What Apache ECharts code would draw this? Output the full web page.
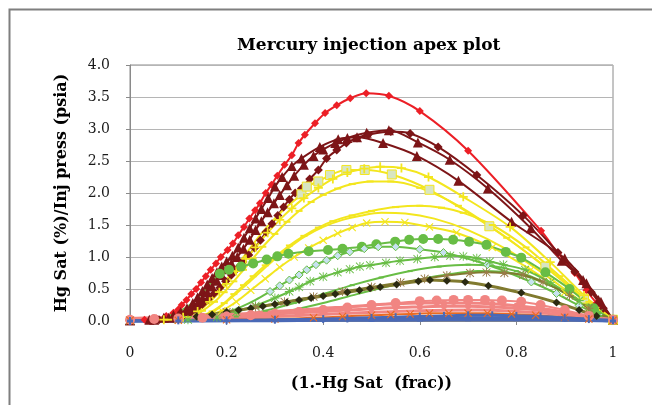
<!DOCTYPE html>
<html>
<head>
<meta charset="utf-8">
<script src="https://cdn.jsdelivr.net/npm/echarts@6/dist/echarts.min.js"></script>
<style>
  html, body { margin: 0; padding: 0; background: #fff; }
  #chart { width: 652px; height: 405px; }
</style>
</head>
<body>
<div id="chart"></div>
<script>
// axis ticks
var xTicks = [0, 0.2, 0.4, 0.6, 0.8, 1];
var yTicks = [0, 0.5, 1.0, 1.5, 2.0, 2.5, 3.0, 3.5, 4.0];

// series values: [1.-Hg Sat, Hg Sat/Inj press]
var redDiamond = [[0,0.01],[0.03,0.02],[0.055,0.04],[0.075,0.08],[0.09,0.13],[0.1,0.18],[0.107,0.25],[0.117,0.33],[0.127,0.42],[0.137,0.5],[0.147,0.6],[0.157,0.7],[0.167,0.8],[0.178,0.9],[0.188,1.0],[0.202,1.11],[0.213,1.21],[0.224,1.34],[0.236,1.47],[0.247,1.6],[0.259,1.73],[0.269,1.84],[0.281,2.0],[0.293,2.13],[0.305,2.27],[0.32,2.44],[0.335,2.59],[0.349,2.78],[0.362,2.91],[0.383,3.09],[0.404,3.25],[0.428,3.37],[0.456,3.48],[0.489,3.56],[0.536,3.52],[0.6,3.28],[0.7,2.66],[0.851,1.41],[0.886,1.06],[0.921,0.75],[0.945,0.48],[0.966,0.28],[1,0.02]];
var darkTriA = [[0,0.01],[0.04,0.02],[0.07,0.05],[0.09,0.09],[0.105,0.14],[0.118,0.2],[0.13,0.28],[0.14,0.37],[0.15,0.47],[0.16,0.57],[0.17,0.67],[0.18,0.76],[0.19,0.85],[0.2,0.93],[0.212,1.02],[0.224,1.15],[0.236,1.3],[0.248,1.45],[0.26,1.6],[0.272,1.75],[0.286,1.92],[0.3,2.1],[0.315,2.25],[0.335,2.42],[0.355,2.54],[0.393,2.72],[0.431,2.84],[0.47,2.87],[0.524,2.78],[0.594,2.58],[0.68,2.19],[0.79,1.55],[0.9,0.98],[0.945,0.59],[0.975,0.3],[1,0.02]];
var darkTriB = [[0,0.01],[0.05,0.02],[0.08,0.05],[0.1,0.09],[0.115,0.14],[0.128,0.2],[0.14,0.28],[0.15,0.36],[0.16,0.45],[0.17,0.54],[0.18,0.63],[0.19,0.72],[0.2,0.81],[0.21,0.9],[0.222,1.0],[0.235,1.13],[0.248,1.27],[0.26,1.42],[0.272,1.56],[0.285,1.7],[0.298,1.84],[0.31,1.97],[0.325,2.12],[0.34,2.27],[0.36,2.44],[0.38,2.58],[0.4,2.68],[0.425,2.78],[0.45,2.86],[0.49,2.94],[0.536,2.98],[0.596,2.79],[0.662,2.52],[0.741,2.07],[0.83,1.45],[0.894,0.94],[0.938,0.64],[0.97,0.33],[1,0.02]];
var darkDiamond = [[0,0.01],[0.06,0.02],[0.09,0.04],[0.11,0.08],[0.125,0.13],[0.138,0.19],[0.15,0.26],[0.162,0.34],[0.174,0.43],[0.186,0.52],[0.198,0.62],[0.21,0.72],[0.222,0.82],[0.234,0.92],[0.246,1.03],[0.258,1.14],[0.27,1.26],[0.282,1.39],[0.294,1.52],[0.306,1.65],[0.318,1.78],[0.33,1.9],[0.342,2.0],[0.355,2.07],[0.372,2.22],[0.39,2.36],[0.407,2.54],[0.428,2.67],[0.448,2.78],[0.47,2.86],[0.493,2.91],[0.54,2.96],[0.58,2.93],[0.638,2.72],[0.718,2.28],[0.814,1.65],[0.886,1.07],[0.921,0.77],[0.955,0.45],[0.98,0.2],[1,0.02]];
var yellowSquare = [[0,0.01],[0.06,0.02],[0.1,0.05],[0.13,0.12],[0.155,0.25],[0.175,0.4],[0.19,0.55],[0.21,0.75],[0.23,0.95],[0.25,1.15],[0.27,1.35],[0.29,1.52],[0.31,1.68],[0.33,1.82],[0.355,1.98],[0.366,2.1],[0.39,2.18],[0.414,2.28],[0.448,2.36],[0.486,2.36],[0.542,2.29],[0.62,2.05],[0.744,1.48],[0.86,0.85],[0.94,0.35],[1,0.02]];
var yellowPlus = [[0,0.01],[0.07,0.02],[0.11,0.06],[0.14,0.15],[0.165,0.3],[0.185,0.45],[0.2,0.58],[0.22,0.78],[0.24,0.97],[0.26,1.15],[0.285,1.38],[0.31,1.58],[0.335,1.76],[0.36,1.92],[0.39,2.08],[0.42,2.22],[0.45,2.32],[0.485,2.38],[0.518,2.41],[0.562,2.39],[0.618,2.25],[0.69,1.94],[0.787,1.47],[0.87,0.92],[0.94,0.4],[1,0.02]];
var yellowDashA = [[0,0.01],[0.08,0.02],[0.12,0.06],[0.15,0.16],[0.175,0.3],[0.195,0.45],[0.215,0.62],[0.235,0.8],[0.255,0.98],[0.275,1.16],[0.3,1.36],[0.325,1.55],[0.35,1.72],[0.375,1.86],[0.4,1.97],[0.43,2.07],[0.46,2.14],[0.497,2.18],[0.54,2.18],[0.6,2.08],[0.68,1.8],[0.78,1.3],[0.87,0.78],[0.94,0.35],[1,0.02]];
var yellowDashB = [[0,0.01],[0.1,0.02],[0.14,0.06],[0.17,0.15],[0.195,0.28],[0.215,0.42],[0.235,0.56],[0.255,0.7],[0.28,0.87],[0.305,1.03],[0.33,1.18],[0.36,1.33],[0.39,1.46],[0.42,1.56],[0.46,1.65],[0.5,1.72],[0.55,1.78],[0.6,1.8],[0.645,1.77],[0.69,1.69],[0.75,1.5],[0.82,1.15],[0.89,0.7],[0.95,0.3],[1,0.02]];
var yellowPlain = [[0,0.01],[0.1,0.02],[0.15,0.07],[0.18,0.18],[0.2,0.3],[0.225,0.46],[0.25,0.63],[0.275,0.8],[0.3,0.97],[0.33,1.15],[0.36,1.31],[0.4,1.47],[0.44,1.58],[0.48,1.65],[0.52,1.69],[0.57,1.68],[0.63,1.6],[0.7,1.42],[0.78,1.12],[0.86,0.72],[0.93,0.33],[1,0.02]];
var yellowCross = [[0,0.01],[0.1,0.02],[0.15,0.06],[0.19,0.16],[0.22,0.3],[0.25,0.48],[0.28,0.66],[0.31,0.84],[0.34,1.0],[0.37,1.14],[0.4,1.26],[0.43,1.37],[0.46,1.46],[0.49,1.53],[0.528,1.55],[0.569,1.54],[0.62,1.47],[0.676,1.38],[0.75,1.15],[0.83,0.8],[0.9,0.45],[0.95,0.2],[1,0.02]];
var greenCircle = [[0,0.01],[0.04,0.03],[0.08,0.08],[0.11,0.18],[0.135,0.32],[0.155,0.48],[0.17,0.62],[0.186,0.74],[0.205,0.8],[0.23,0.85],[0.255,0.9],[0.283,0.96],[0.305,1.01],[0.328,1.05],[0.37,1.09],[0.41,1.11],[0.44,1.13],[0.48,1.16],[0.51,1.2],[0.549,1.24],[0.578,1.27],[0.607,1.28],[0.638,1.28],[0.669,1.27],[0.702,1.24],[0.738,1.19],[0.778,1.08],[0.81,0.99],[0.86,0.76],[0.91,0.5],[0.96,0.2],[1,0.02]];
var greenDiamond = [[0,0.01],[0.1,0.02],[0.16,0.06],[0.2,0.13],[0.23,0.22],[0.26,0.33],[0.29,0.46],[0.31,0.55],[0.33,0.64],[0.35,0.72],[0.366,0.8],[0.385,0.88],[0.407,0.95],[0.43,1.02],[0.455,1.08],[0.485,1.13],[0.514,1.16],[0.55,1.16],[0.6,1.12],[0.649,1.07],[0.74,0.88],[0.831,0.61],[0.883,0.43],[0.93,0.24],[0.97,0.1],[1,0.02]];
var greenStar = [[0,0.01],[0.12,0.02],[0.18,0.06],[0.22,0.14],[0.26,0.24],[0.3,0.36],[0.33,0.46],[0.35,0.53],[0.373,0.62],[0.4,0.69],[0.43,0.76],[0.455,0.81],[0.476,0.85],[0.497,0.87],[0.53,0.91],[0.559,0.94],[0.595,0.97],[0.631,1.0],[0.663,1.02],[0.69,1.01],[0.718,0.98],[0.745,0.93],[0.773,0.88],[0.818,0.8],[0.87,0.6],[0.93,0.32],[0.97,0.12],[1,0.02]];
var greenPlainA = [[0,0.01],[0.15,0.02],[0.22,0.07],[0.28,0.16],[0.34,0.28],[0.4,0.42],[0.46,0.56],[0.52,0.68],[0.58,0.78],[0.64,0.85],[0.7,0.88],[0.75,0.86],[0.8,0.78],[0.86,0.6],[0.92,0.35],[0.97,0.12],[1,0.02]];
var greenPlainB = [[0,0.01],[0.18,0.02],[0.26,0.07],[0.33,0.16],[0.4,0.28],[0.47,0.42],[0.54,0.55],[0.6,0.65],[0.66,0.73],[0.72,0.78],[0.77,0.77],[0.82,0.7],[0.88,0.52],[0.93,0.3],[0.97,0.12],[1,0.02]];
var oliveStar = [[0,0.01],[0.1,0.03],[0.14,0.07],[0.2,0.14],[0.26,0.22],[0.32,0.3],[0.38,0.38],[0.44,0.46],[0.5,0.53],[0.56,0.6],[0.61,0.66],[0.656,0.71],[0.704,0.75],[0.738,0.76],[0.775,0.75],[0.814,0.72],[0.855,0.61],[0.91,0.4],[0.95,0.2],[1,0.02]];
var oliveBlack = [[0,0.01],[0.05,0.02],[0.1,0.03],[0.138,0.07],[0.17,0.1],[0.2,0.14],[0.225,0.17],[0.25,0.2],[0.275,0.23],[0.3,0.26],[0.325,0.29],[0.35,0.33],[0.375,0.36],[0.4,0.39],[0.425,0.42],[0.45,0.45],[0.475,0.48],[0.497,0.51],[0.518,0.53],[0.552,0.57],[0.597,0.62],[0.621,0.64],[0.656,0.63],[0.694,0.61],[0.742,0.55],[0.81,0.44],[0.883,0.29],[0.93,0.17],[0.966,0.08],[1,0.02]];
var salmonCircle = [[0,0.02],[0.05,0.03],[0.1,0.04],[0.15,0.05],[0.2,0.07],[0.25,0.09],[0.3,0.11],[0.35,0.14],[0.4,0.17],[0.45,0.21],[0.5,0.25],[0.55,0.28],[0.6,0.31],[0.635,0.32],[0.67,0.33],[0.7,0.33],[0.735,0.33],[0.77,0.32],[0.81,0.3],[0.85,0.25],[0.9,0.17],[0.95,0.08],[1,0.02]];
var salmonA = [[0,0.04],[0.05,0.05],[0.1,0.06],[0.15,0.08],[0.2,0.1],[0.25,0.12],[0.3,0.15],[0.35,0.17],[0.4,0.2],[0.45,0.22],[0.5,0.25],[0.55,0.27],[0.6,0.28],[0.65,0.28],[0.7,0.28],[0.75,0.27],[0.8,0.24],[0.85,0.2],[0.9,0.14],[0.95,0.07],[1,0.02]];
var salmonB = [[0,0.03],[0.05,0.04],[0.1,0.05],[0.15,0.06],[0.2,0.07],[0.25,0.09],[0.3,0.11],[0.35,0.13],[0.4,0.15],[0.45,0.17],[0.5,0.19],[0.55,0.21],[0.6,0.22],[0.65,0.23],[0.7,0.23],[0.75,0.22],[0.8,0.2],[0.85,0.17],[0.9,0.12],[0.95,0.06],[1,0.02]];
var salmonC = [[0,0.02],[0.15,0.03],[0.3,0.07],[0.45,0.12],[0.6,0.16],[0.72,0.17],[0.82,0.14],[0.92,0.08],[1,0.01]];
var orangeCross = [[0,0.01],[0.1,0.01],[0.2,0.02],[0.3,0.03],[0.38,0.05],[0.44,0.07],[0.5,0.09],[0.54,0.1],[0.58,0.11],[0.62,0.12],[0.66,0.12],[0.7,0.12],[0.74,0.12],[0.79,0.11],[0.84,0.09],[0.9,0.06],[0.95,0.03],[1,0.01]];
var blueA = [[0,0.0],[0.1,0.01],[0.2,0.01],[0.3,0.02],[0.4,0.03],[0.45,0.04],[0.5,0.05],[0.55,0.06],[0.6,0.07],[0.65,0.08],[0.7,0.09],[0.75,0.09],[0.8,0.08],[0.85,0.07],[0.9,0.05],[0.95,0.03],[1,0.01]];
var blueB = [[0,0],[0.3,0.01],[0.5,0.03],[0.6,0.04],[0.7,0.05],[0.8,0.05],[0.9,0.03],[1,0.0]];
var blueC = [[0,0],[0.1,0],[0.2,0.005],[0.3,0.005],[0.4,0.01],[0.5,0.01],[0.6,0.015],[0.7,0.02],[0.8,0.02],[0.9,0.015],[1,0]];

var PLUS = 'path://M4,0H6V4H10V6H6V10H4V6H0V4H4Z';
var CROSS = 'path://M1,0L5,4L9,0L10,1L6,5L10,9L9,10L5,6L1,10L0,9L4,5L0,1Z';
var STAR = 'path://M4.5,0H5.5V4.5H10V5.5H5.5V10H4.5V5.5H0V4.5H4.5Z M1,0.3L5,4.3L9,0.3L9.7,1L5.7,5L9.7,9L9,9.7L5,5.7L1,9.7L0.3,9L4.3,5L0.3,1Z';

function line(name, data, color, symbol, size, fill, border, width, hideFirst) {
    return {
        name: name,
        type: 'line',
        smooth: 0.3,
        clip: false,
        data: data.map(function (p, i) {
            return (hideFirst && i < hideFirst) ? { value: p, symbol: 'none' } : p;
        }),
        symbol: symbol,
        symbolSize: size,
        showSymbol: symbol !== 'none',
        lineStyle: { color: color, width: width || 2 },
        itemStyle: { color: fill || color, borderColor: border || color, borderWidth: border ? 1 : 0 },
        emphasis: { disabled: true }
    };
}

var RED = '#ec1f26', DARK = '#7d1517', YEL = '#f3e61e', GRN = '#68bd45',
    OLV = '#807a2f', SAL = '#f18582', ORG = '#ea6a22', BLU = '#4a69b6';

var series = [
    line('red', redDiamond, RED, 'diamond', 8),
    line('dr1', darkTriA, DARK, 'triangle', 10),
    line('dr2', darkTriB, DARK, 'triangle', 10),
    line('dr3', darkDiamond, DARK, 'diamond', 9),
    line('y1', yellowSquare, YEL, 'rect', 9, '#d8e5c2', YEL, 2, 14),
    line('y2', yellowPlus, YEL, PLUS, 9),
    line('y3', yellowDashA, YEL, 'rect', [7, 2]),
    line('y4', yellowDashB, YEL, 'rect', [7, 2]),
    line('y5', yellowPlain, YEL, 'none', 4),
    line('y6', yellowCross, YEL, CROSS, 8),
    line('g1', greenCircle, GRN, 'circle', 10, null, null, 2, 7),
    line('g2', greenDiamond, GRN, 'diamond', 8, '#c7e2ef', GRN, 2, 6),
    line('g3', greenStar, GRN, STAR, 9),
    line('g4', greenPlainA, GRN, 'rect', [5, 2]),
    line('g5', greenPlainB, GRN, 'none', 4),
    line('o1', oliveStar, OLV, STAR, 9, '#9a7b48'),
    line('o2', oliveBlack, OLV, 'diamond', 8, '#2a2a12', null, 3),
    line('s2', salmonA, SAL, 'circle', 6, null, null, 3),
    line('s3', salmonB, SAL, 'circle', 6, null, null, 3),
    line('s4', salmonC, SAL, 'none', 4, null, null, 3),
    line('s1', salmonCircle, SAL, 'circle', 10),
    line('or', orangeCross, ORG, CROSS, 8),
    line('b1', blueA, BLU, 'rect', [2, 8], null, null, 3),
    line('b2', blueB, BLU, 'none', 4, null, null, 3),
    line('b3', blueC, BLU, 'rect', [6, 3], null, null, 3)
];

var chart = echarts.init(document.getElementById('chart'), null, { renderer: 'canvas' });
var serif = 'DejaVu Serif';
chart.setOption({
    animation: false,
    backgroundColor: '#fff',
    title: {
        text: 'Mercury injection apex plot',
        left: 232, top: 32,
        textStyle: { fontFamily: serif, fontWeight: 'bold', fontSize: 17, color: '#000' }
    },
    graphic: [{
        type: 'rect', left: 7, top: 7,
        shape: { width: 700, height: 500 },
        style: { fill: null, stroke: '#7f7f7f', lineWidth: 2 }
    }],
    grid: { left: 130, right: 39, top: 65, bottom: 84, show: true, borderColor: '#8a8a8a', borderWidth: 1 },
    xAxis: {
        type: 'value', min: xTicks[0], max: xTicks[xTicks.length - 1], interval: 0.2,
        name: '(1.-Hg Sat  (frac))', nameLocation: 'middle', nameGap: 55,
        nameTextStyle: { fontFamily: serif, fontWeight: 'bold', fontSize: 16, color: '#000' },
        axisLine: { lineStyle: { color: '#8a8a8a' } },
        axisTick: { length: 4, lineStyle: { color: '#8a8a8a' } },
        splitLine: { show: false },
        axisLabel: {
            margin: 25, fontFamily: serif, fontSize: 14, color: '#1a1a1a',
            formatter: function (v) { return (v === 0 || v === 1) ? String(v) : v.toFixed(1); }
        }
    },
    yAxis: {
        type: 'value', min: yTicks[0], max: yTicks[yTicks.length - 1], interval: 0.5,
        name: 'Hg Sat (%)/Inj press (psia)', nameLocation: 'middle', nameGap: 60,
        nameTextStyle: { fontFamily: serif, fontWeight: 'bold', fontSize: 16, color: '#000' },
        axisLine: { show: true, lineStyle: { color: '#8a8a8a' } },
        axisTick: { show: true, length: 4, lineStyle: { color: '#8a8a8a' } },
        splitLine: { lineStyle: { color: '#b5b5b5' } },
        axisLabel: {
            margin: 20, fontFamily: serif, fontSize: 14, color: '#1a1a1a',
            formatter: function (v) { return v.toFixed(1); }
        }
    },
    series: series
});
</script>
</body>
</html>
